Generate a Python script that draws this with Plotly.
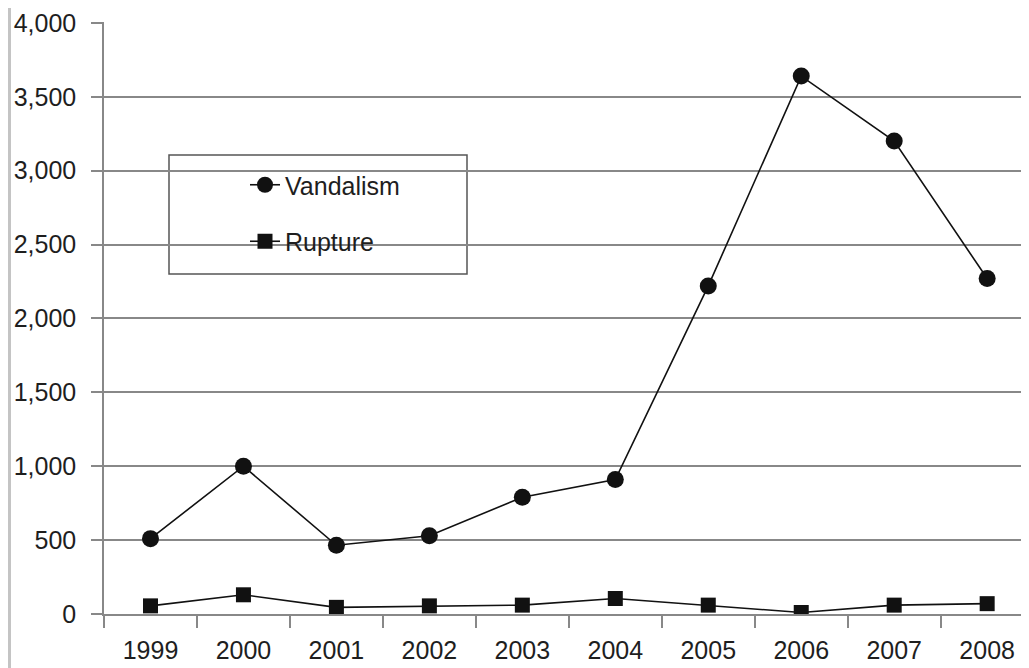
import plotly.graph_objects as go

years = ["1999", "2000", "2001", "2002", "2003", "2004", "2005", "2006", "2007", "2008"]
vandalism = [510, 1000, 465, 530, 790, 910, 2220, 3640, 3200, 2270]
rupture = [55, 130, 45, 55, 60, 105, 60, 10, 60, 70]
y_ticks = [0, 500, 1000, 1500, 2000, 2500, 3000, 3500, 4000]
y_tick_labels = ["0", "500", "1,000", "1,500", "2,000", "2,500", "3,000", "3,500", "4,000"]

FONT = "Liberation Sans, Arial, sans-serif"
TXT = "#1e1e1e"
GRID = "#888888"

# page body adds an 8px offset; figure coordinates below are screen - 8
OFF = 8
W, H = 1021, 660
ML, MR, MT, MB = 96, 0, 14, 54
PW, PH = W - ML - MR, H - MT - MB

def px_x(p):  # screen px -> paper
    return (p - OFF - ML) / PW

def px_y(p):
    return (H - MB - (p - OFF)) / PH

fig = go.Figure()
fig.add_trace(go.Scatter(
    x=years, y=vandalism, name="Vandalism", mode="lines+markers",
    line=dict(color="#111111", width=1.6),
    marker=dict(symbol="circle", size=17, color="#111111"),
    legendgroup="v",
))
fig.add_trace(go.Scatter(
    x=years, y=rupture, name="Rupture", mode="lines+markers",
    line=dict(color="#111111", width=1.6),
    marker=dict(symbol="square", size=15, color="#111111"),
    legendgroup="r",
))

fig.update_layout(
    width=W, height=H,
    margin=dict(l=ML, r=MR, t=MT, b=MB),
    paper_bgcolor="white", plot_bgcolor="white",
    font=dict(family=FONT, size=25, color=TXT),
    showlegend=True,
    legend=dict(
        x=px_x(245), y=px_y(162), xanchor="left", yanchor="top",
        bgcolor="rgba(0,0,0,0)", borderwidth=0,
        traceorder="grouped", tracegroupgap=21,
        font=dict(family=FONT, size=25, color=TXT),
    ),
    xaxis=dict(
        type="category", range=[-0.5, 9.45],
        tickson="boundaries", ticks="outside", ticklen=12, tickwidth=1.5, tickcolor=GRID,
        showline=True, linecolor=GRID, linewidth=1.5,
        showgrid=False, zeroline=False,
        tickfont=dict(family=FONT, size=25, color=TXT),
        ticklabelstandoff=13,
    ),
    yaxis=dict(
        range=[0, 4006], tickvals=y_ticks, ticktext=y_tick_labels,
        ticks="outside", ticklen=11, tickwidth=1.5, tickcolor=GRID,
        showline=True, linecolor=GRID, linewidth=1.5,
        showgrid=True, gridcolor=GRID, gridwidth=1.5, zeroline=False,
        tickfont=dict(family=FONT, size=25, color=TXT),
        ticklabelstandoff=10, ticklabeloverflow="allow",
    ),
    shapes=[
        dict(type="rect", xref="paper", yref="paper",
             x0=px_x(169), x1=px_x(467), y0=px_y(274), y1=px_y(155),
             line=dict(color="#555555", width=1.5), fillcolor="white", layer="below"),
        dict(type="rect", xref="paper", yref="paper",
             x0=px_x(OFF), x1=px_x(OFF + 3), y0=px_y(H + OFF), y1=px_y(OFF),
             line=dict(width=0), fillcolor="#c4c4c4", layer="above"),
    ],
)

fig.write_html("out.html")
